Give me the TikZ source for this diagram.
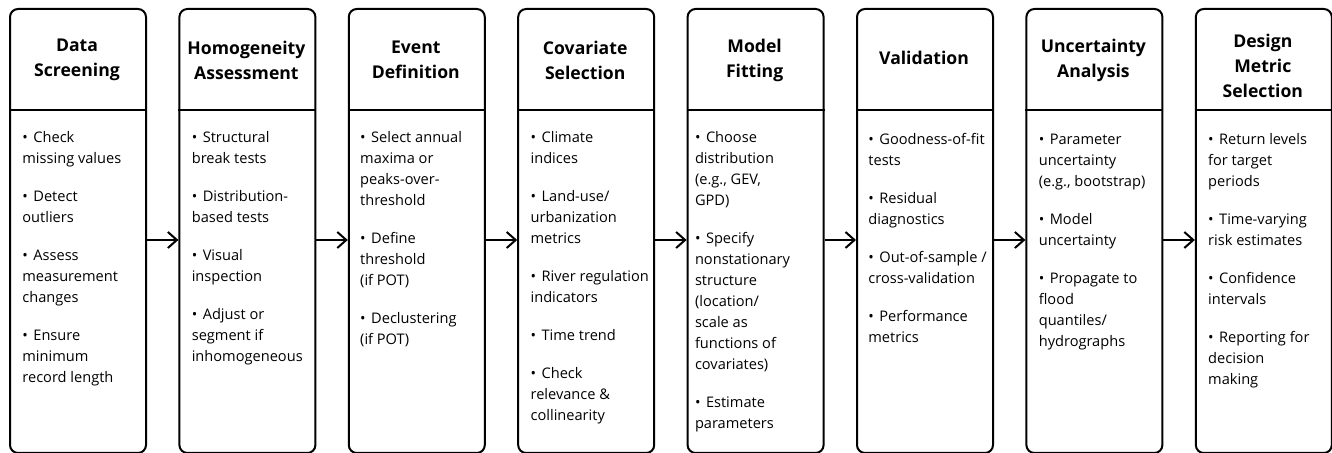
\documentclass[tikz,border=0pt]{standalone}
\usepackage{fontspec}
\setmainfont{Open Sans}
\usetikzlibrary{arrows.meta}
\newif\ifbfirst
\newlength\bind \setlength\bind{5.5pt}
\newlength\bsep \setlength\bsep{8.5pt}
\newcommand\bitem[1]{\ifbfirst\global\bfirstfalse\else\par\vspace{\bsep}\fi\hangindent=\bind\hangafter=1\noindent\makebox[\bind][l]{\textbullet}#1}
\newcommand\blist[1]{\global\bfirsttrue\vtop{\hsize=72pt\parindent=0pt\parskip=0pt\raggedright\fontsize{7.3pt}{10.5pt}\selectfont #1\par}}
\tikzset{
  stagebox/.style={draw, line width=1pt, rounded corners=4pt, minimum width=68pt, minimum height=222pt, anchor=north west, inner sep=0pt},
  stagehead/.style={font=\bfseries\fontsize{8.8pt}{12.5pt}\selectfont, align=center, inner sep=0pt},
  stagebody/.style={anchor=base west, inner sep=0pt},
  divline/.style={line width=1pt},
  arr/.style={line width=1pt, -{Straight Barb[length=4.5pt,width=8pt]}}
}
\begin{document}
\begin{tikzpicture}[x=0.5pt,y=-0.5pt]
\useasboundingbox[fill=white] (0,0) rectangle (1332,453);
% boxes
\node[stagebox] (b1) at (9,8) {};
\node[stagebox] (b2) at (178.4,8) {};
\node[stagebox] (b3) at (347.8,8) {};
\node[stagebox] (b4) at (517.2,8) {};
\node[stagebox] (b5) at (686.6,8) {};
\node[stagebox] (b6) at (856,8) {};
\node[stagebox] (b7) at (1025.4,8) {};
\node[stagebox] (b8) at (1194.8,8) {};
% dividers
\foreach \i in {1,...,8}{
  \draw[divline] ([yshift=-51pt]b\i.north west) -- ([yshift=-51pt]b\i.north east);
}
% arrows
\foreach \i/\j in {1/2,2/3,3/4,4/5,5/6,6/7,7/8}{
  \draw[arr] ([yshift=-4.5pt]b\i.east) -- ([yshift=-4.5pt]b\j.west);
}
% headers
\node[stagehead] (h1) at (77,60) {Data\\Screening};
\node[stagehead] (h2) at (246.4,60) {Homogeneity\\Assessment};
\node[stagehead] (h3) at (415.8,60) {Event\\Definition};
\node[stagehead] (h4) at (585.2,60) {Covariate\\Selection};
\node[stagehead] (h5) at (754.6,60) {Model\\Fitting};
\node[stagehead] (h6) at (924,58) {Validation};
\node[stagehead] (h7) at (1093.4,60) {Uncertainty\\Analysis};
\node[stagehead] (h8) at (1262.8,66) {Design\\Metric\\Selection};
% bodies
\node[stagebody] (t1) at (22,143) {\blist{%
  \bitem{Check\\missing values}
  \bitem{Detect\\outliers}
  \bitem{Assess\\measurement\\changes}
  \bitem{Ensure\\minimum\\record length}}};
\node[stagebody] (t2) at (191.4,143) {\blist{%
  \bitem{Structural\\break tests}
  \bitem{Distribution-\\based tests}
  \bitem{Visual\\inspection}
  \bitem{Adjust or\\segment if\\inhomogeneous}}};
\node[stagebody] (t3) at (359.8,143) {\blist{%
  \bitem{Select annual\\maxima or\\peaks-over-\\threshold}
  \bitem{Define\\threshold\\(if POT)}
  \bitem{Declustering\\(if POT)}}};
\node[stagebody] (t4) at (530.2,143) {\blist{%
  \bitem{Climate\\indices}
  \bitem{Land-use/\\urbanization\\metrics}
  \bitem{River regulation\\indicators}
  \bitem{Time trend}
  \bitem{Check\\relevance \&\\collinearity}}};
\node[stagebody] (t5) at (694.6,143) {\blist{%
  \bitem{Choose\\distribution\\(e.g., GEV,\\GPD)}
  \bitem{Specify\\nonstationary\\structure\\(location/\\scale as\\functions of\\covariates)}
  \bitem{Estimate\\parameters}}};
\node[stagebody] (t6) at (868,145) {\blist{%
  \bitem{Goodness-of-fit\\tests}
  \bitem{Residual\\diagnostics}
  \bitem{Out-of-sample /\\cross-validation}
  \bitem{Performance\\metrics}}};
\node[stagebody] (t7) at (1038.4,145) {\blist{%
  \bitem{Parameter\\uncertainty\\(e.g., bootstrap)}
  \bitem{Model\\uncertainty}
  \bitem{Propagate to\\flood\\quantiles/\\hydrographs}}};
\node[stagebody] (t8) at (1207.8,145) {\blist{%
  \bitem{Return levels\\for target\\periods}
  \bitem{Time-varying\\risk estimates}
  \bitem{Confidence\\intervals}
  \bitem{Reporting for\\decision\\making}}};
\end{tikzpicture}
\end{document}
